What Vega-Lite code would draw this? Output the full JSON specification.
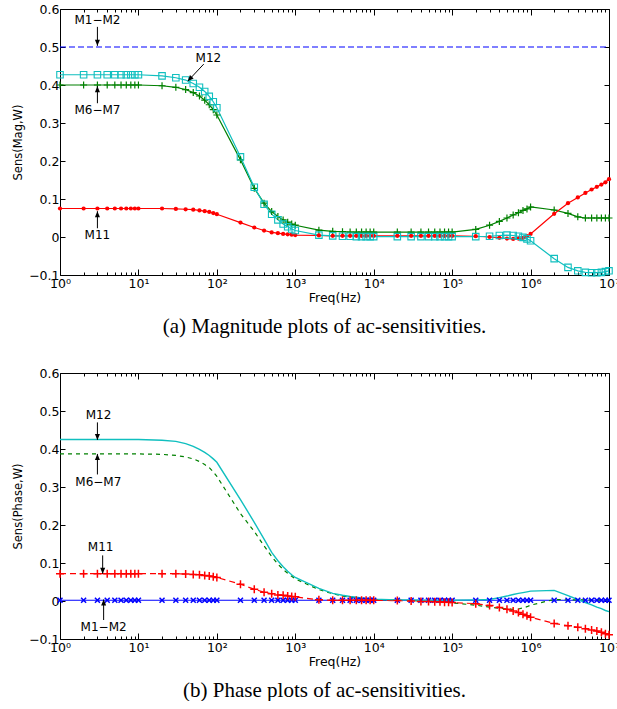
{
  "$schema": "https://vega.github.io/schema/vega-lite/v6.json",
  "background": "white",
  "padding": {"left": 12, "top": 3, "right": 0, "bottom": 0},
  "spacing": 30,
  "config": {
    "view": {"stroke": null},
    "font": "DejaVu Sans",
    "axis": {"grid": false, "domainColor": "black", "tickColor": "black", "labelColor": "black", "titleColor": "black", "labelFont": "DejaVu Sans", "titleFont": "DejaVu Sans", "titleFontWeight": "normal", "labelOverlap": false, "labelFlush": false}
  },
  "datasets": {
    "mag": [
      {"s":"M1−M2","f":1,"v":0.5},{"s":"M1−M2","f":10000000,"v":0.5},
      {"s":"M12","f":1,"v":0.427},{"s":"M12","f":2,"v":0.427},{"s":"M12","f":3,"v":0.427},{"s":"M12","f":4,"v":0.427},{"s":"M12","f":5,"v":0.427},{"s":"M12","f":6,"v":0.427},{"s":"M12","f":7,"v":0.427},{"s":"M12","f":8,"v":0.427},{"s":"M12","f":9,"v":0.427},{"s":"M12","f":10,"v":0.427},
      {"s":"M12","f":20,"v":0.424},{"s":"M12","f":30,"v":0.419},{"s":"M12","f":40,"v":0.413},{"s":"M12","f":50,"v":0.404},{"s":"M12","f":60,"v":0.394},{"s":"M12","f":70,"v":0.383},{"s":"M12","f":80,"v":0.370},{"s":"M12","f":90,"v":0.356},{"s":"M12","f":100,"v":0.340},
      {"s":"M12","f":200,"v":0.211},{"s":"M12","f":300,"v":0.131},{"s":"M12","f":400,"v":0.086},{"s":"M12","f":500,"v":0.060},{"s":"M12","f":600,"v":0.045},{"s":"M12","f":700,"v":0.034},{"s":"M12","f":800,"v":0.027},{"s":"M12","f":900,"v":0.021},{"s":"M12","f":1000,"v":0.017},
      {"s":"M12","f":2000,"v":0.005},{"s":"M12","f":3000,"v":0.003},{"s":"M12","f":4000,"v":0.002},{"s":"M12","f":5000,"v":0.002},{"s":"M12","f":6000,"v":0.001},{"s":"M12","f":7000,"v":0.001},{"s":"M12","f":8000,"v":0.001},{"s":"M12","f":9000,"v":0.001},{"s":"M12","f":10000,"v":0.001},
      {"s":"M12","f":20000,"v":0.001},{"s":"M12","f":30000,"v":0.001},{"s":"M12","f":40000,"v":0.001},{"s":"M12","f":50000,"v":0.001},{"s":"M12","f":60000,"v":0.001},{"s":"M12","f":70000,"v":0.001},{"s":"M12","f":80000,"v":0.001},{"s":"M12","f":90000,"v":0.001},{"s":"M12","f":100000,"v":0.001},
      {"s":"M12","f":200000,"v":0.001},{"s":"M12","f":300000,"v":0.002},{"s":"M12","f":400000,"v":0.004},{"s":"M12","f":500000,"v":0.005},{"s":"M12","f":600000,"v":0.004},{"s":"M12","f":700000,"v":0.002},{"s":"M12","f":800000,"v":-0.001},{"s":"M12","f":900000,"v":-0.005},{"s":"M12","f":1000000,"v":-0.010},
      {"s":"M12","f":2000000,"v":-0.057},{"s":"M12","f":3000000,"v":-0.080},{"s":"M12","f":4000000,"v":-0.089},{"s":"M12","f":5000000,"v":-0.093},{"s":"M12","f":6000000,"v":-0.094},{"s":"M12","f":7000000,"v":-0.094},{"s":"M12","f":8000000,"v":-0.093},{"s":"M12","f":9000000,"v":-0.091},{"s":"M12","f":10000000,"v":-0.089},
      {"s":"M6−M7","f":1,"v":0.4},{"s":"M6−M7","f":2,"v":0.4},{"s":"M6−M7","f":3,"v":0.4},{"s":"M6−M7","f":4,"v":0.4},{"s":"M6−M7","f":5,"v":0.4},{"s":"M6−M7","f":6,"v":0.4},{"s":"M6−M7","f":7,"v":0.4},{"s":"M6−M7","f":8,"v":0.4},{"s":"M6−M7","f":9,"v":0.4},{"s":"M6−M7","f":10,"v":0.4},
      {"s":"M6−M7","f":20,"v":0.398},{"s":"M6−M7","f":30,"v":0.394},{"s":"M6−M7","f":40,"v":0.388},{"s":"M6−M7","f":50,"v":0.380},{"s":"M6−M7","f":60,"v":0.371},{"s":"M6−M7","f":70,"v":0.360},{"s":"M6−M7","f":80,"v":0.348},{"s":"M6−M7","f":90,"v":0.335},{"s":"M6−M7","f":100,"v":0.321},
      {"s":"M6−M7","f":200,"v":0.203},{"s":"M6−M7","f":300,"v":0.128},{"s":"M6−M7","f":400,"v":0.089},{"s":"M6−M7","f":500,"v":0.067},{"s":"M6−M7","f":600,"v":0.054},{"s":"M6−M7","f":700,"v":0.045},{"s":"M6−M7","f":800,"v":0.039},{"s":"M6−M7","f":900,"v":0.034},{"s":"M6−M7","f":1000,"v":0.031},
      {"s":"M6−M7","f":2000,"v":0.018},{"s":"M6−M7","f":3000,"v":0.015},{"s":"M6−M7","f":4000,"v":0.014},{"s":"M6−M7","f":5000,"v":0.013},{"s":"M6−M7","f":6000,"v":0.013},{"s":"M6−M7","f":7000,"v":0.013},{"s":"M6−M7","f":8000,"v":0.013},{"s":"M6−M7","f":9000,"v":0.013},{"s":"M6−M7","f":10000,"v":0.013},
      {"s":"M6−M7","f":20000,"v":0.013},{"s":"M6−M7","f":30000,"v":0.013},{"s":"M6−M7","f":40000,"v":0.013},{"s":"M6−M7","f":50000,"v":0.013},{"s":"M6−M7","f":60000,"v":0.013},{"s":"M6−M7","f":70000,"v":0.013},{"s":"M6−M7","f":80000,"v":0.013},{"s":"M6−M7","f":90000,"v":0.013},{"s":"M6−M7","f":100000,"v":0.013},
      {"s":"M6−M7","f":200000,"v":0.020},{"s":"M6−M7","f":300000,"v":0.031},{"s":"M6−M7","f":400000,"v":0.041},{"s":"M6−M7","f":500000,"v":0.050},{"s":"M6−M7","f":600000,"v":0.058},{"s":"M6−M7","f":700000,"v":0.064},{"s":"M6−M7","f":800000,"v":0.070},{"s":"M6−M7","f":900000,"v":0.074},{"s":"M6−M7","f":1000000,"v":0.079},
      {"s":"M6−M7","f":2000000,"v":0.071},{"s":"M6−M7","f":3000000,"v":0.062},{"s":"M6−M7","f":4000000,"v":0.053},{"s":"M6−M7","f":5000000,"v":0.050},{"s":"M6−M7","f":6000000,"v":0.050},{"s":"M6−M7","f":7000000,"v":0.050},{"s":"M6−M7","f":8000000,"v":0.050},{"s":"M6−M7","f":9000000,"v":0.050},{"s":"M6−M7","f":10000000,"v":0.050},
      {"s":"M11","f":1,"v":0.075},{"s":"M11","f":2,"v":0.075},{"s":"M11","f":3,"v":0.075},{"s":"M11","f":4,"v":0.075},{"s":"M11","f":5,"v":0.075},{"s":"M11","f":6,"v":0.075},{"s":"M11","f":7,"v":0.075},{"s":"M11","f":8,"v":0.075},{"s":"M11","f":9,"v":0.075},{"s":"M11","f":10,"v":0.075},
      {"s":"M11","f":20,"v":0.075},{"s":"M11","f":30,"v":0.074},{"s":"M11","f":40,"v":0.073},{"s":"M11","f":50,"v":0.072},{"s":"M11","f":60,"v":0.070},{"s":"M11","f":70,"v":0.068},{"s":"M11","f":80,"v":0.066},{"s":"M11","f":90,"v":0.063},{"s":"M11","f":100,"v":0.060},
      {"s":"M11","f":200,"v":0.038},{"s":"M11","f":300,"v":0.025},{"s":"M11","f":400,"v":0.017},{"s":"M11","f":500,"v":0.012},{"s":"M11","f":600,"v":0.010},{"s":"M11","f":700,"v":0.008},{"s":"M11","f":800,"v":0.007},{"s":"M11","f":900,"v":0.006},{"s":"M11","f":1000,"v":0.005},
      {"s":"M11","f":2000,"v":0.004},{"s":"M11","f":3000,"v":0.003},{"s":"M11","f":4000,"v":0.003},{"s":"M11","f":5000,"v":0.003},{"s":"M11","f":6000,"v":0.003},{"s":"M11","f":7000,"v":0.003},{"s":"M11","f":8000,"v":0.003},{"s":"M11","f":9000,"v":0.003},{"s":"M11","f":10000,"v":0.003},
      {"s":"M11","f":20000,"v":0.003},{"s":"M11","f":30000,"v":0.003},{"s":"M11","f":40000,"v":0.003},{"s":"M11","f":50000,"v":0.003},{"s":"M11","f":60000,"v":0.003},{"s":"M11","f":70000,"v":0.003},{"s":"M11","f":80000,"v":0.003},{"s":"M11","f":90000,"v":0.003},{"s":"M11","f":100000,"v":0.003},
      {"s":"M11","f":200000,"v":0.002},{"s":"M11","f":300000,"v":0.000},{"s":"M11","f":400000,"v":-0.002},{"s":"M11","f":500000,"v":-0.004},{"s":"M11","f":600000,"v":-0.005},{"s":"M11","f":700000,"v":-0.004},{"s":"M11","f":800000,"v":-0.002},{"s":"M11","f":900000,"v":0.002},{"s":"M11","f":1000000,"v":0.008},
      {"s":"M11","f":2000000,"v":0.061},{"s":"M11","f":3000000,"v":0.089},{"s":"M11","f":4000000,"v":0.104},{"s":"M11","f":5000000,"v":0.116},{"s":"M11","f":6000000,"v":0.125},{"s":"M11","f":7000000,"v":0.132},{"s":"M11","f":8000000,"v":0.138},{"s":"M11","f":9000000,"v":0.144},{"s":"M11","f":10000000,"v":0.152}
    ],
    "phase": [
      {"s":"M1−M2","f":1,"v":0.002},{"s":"M1−M2","f":2,"v":0.002},{"s":"M1−M2","f":3,"v":0.002},{"s":"M1−M2","f":4,"v":0.002},{"s":"M1−M2","f":5,"v":0.002},{"s":"M1−M2","f":6,"v":0.002},{"s":"M1−M2","f":7,"v":0.002},{"s":"M1−M2","f":8,"v":0.002},{"s":"M1−M2","f":9,"v":0.002},{"s":"M1−M2","f":10,"v":0.002},
      {"s":"M1−M2","f":20,"v":0.002},{"s":"M1−M2","f":30,"v":0.002},{"s":"M1−M2","f":40,"v":0.002},{"s":"M1−M2","f":50,"v":0.002},{"s":"M1−M2","f":60,"v":0.002},{"s":"M1−M2","f":70,"v":0.002},{"s":"M1−M2","f":80,"v":0.002},{"s":"M1−M2","f":90,"v":0.002},{"s":"M1−M2","f":100,"v":0.002},
      {"s":"M1−M2","f":200,"v":0.002},{"s":"M1−M2","f":300,"v":0.002},{"s":"M1−M2","f":400,"v":0.002},{"s":"M1−M2","f":500,"v":0.002},{"s":"M1−M2","f":600,"v":0.002},{"s":"M1−M2","f":700,"v":0.002},{"s":"M1−M2","f":800,"v":0.002},{"s":"M1−M2","f":900,"v":0.002},{"s":"M1−M2","f":1000,"v":0.002},
      {"s":"M1−M2","f":2000,"v":0.002},{"s":"M1−M2","f":3000,"v":0.002},{"s":"M1−M2","f":4000,"v":0.002},{"s":"M1−M2","f":5000,"v":0.002},{"s":"M1−M2","f":6000,"v":0.002},{"s":"M1−M2","f":7000,"v":0.002},{"s":"M1−M2","f":8000,"v":0.002},{"s":"M1−M2","f":9000,"v":0.002},{"s":"M1−M2","f":10000,"v":0.002},
      {"s":"M1−M2","f":20000,"v":0.002},{"s":"M1−M2","f":30000,"v":0.002},{"s":"M1−M2","f":40000,"v":0.002},{"s":"M1−M2","f":50000,"v":0.002},{"s":"M1−M2","f":60000,"v":0.002},{"s":"M1−M2","f":70000,"v":0.002},{"s":"M1−M2","f":80000,"v":0.002},{"s":"M1−M2","f":90000,"v":0.002},{"s":"M1−M2","f":100000,"v":0.002},
      {"s":"M1−M2","f":200000,"v":0.002},{"s":"M1−M2","f":300000,"v":0.002},{"s":"M1−M2","f":400000,"v":0.002},{"s":"M1−M2","f":500000,"v":0.002},{"s":"M1−M2","f":600000,"v":0.002},{"s":"M1−M2","f":700000,"v":0.002},{"s":"M1−M2","f":800000,"v":0.002},{"s":"M1−M2","f":900000,"v":0.002},{"s":"M1−M2","f":1000000,"v":0.002},
      {"s":"M1−M2","f":2000000,"v":0.002},{"s":"M1−M2","f":3000000,"v":0.002},{"s":"M1−M2","f":4000000,"v":0.002},{"s":"M1−M2","f":5000000,"v":0.002},{"s":"M1−M2","f":6000000,"v":0.002},{"s":"M1−M2","f":7000000,"v":0.002},{"s":"M1−M2","f":8000000,"v":0.002},{"s":"M1−M2","f":9000000,"v":0.002},{"s":"M1−M2","f":10000000,"v":0.002},
      {"s":"M12","f":1,"v":0.425},{"s":"M12","f":2,"v":0.425},{"s":"M12","f":3,"v":0.425},{"s":"M12","f":4,"v":0.425},{"s":"M12","f":5,"v":0.425},{"s":"M12","f":6,"v":0.425},{"s":"M12","f":7,"v":0.425},{"s":"M12","f":8,"v":0.425},{"s":"M12","f":9,"v":0.425},{"s":"M12","f":10,"v":0.425},
      {"s":"M12","f":20,"v":0.423},{"s":"M12","f":30,"v":0.420},{"s":"M12","f":40,"v":0.414},{"s":"M12","f":50,"v":0.407},{"s":"M12","f":60,"v":0.399},{"s":"M12","f":70,"v":0.391},{"s":"M12","f":80,"v":0.383},{"s":"M12","f":90,"v":0.374},{"s":"M12","f":100,"v":0.365},
      {"s":"M12","f":200,"v":0.267},{"s":"M12","f":300,"v":0.207},{"s":"M12","f":400,"v":0.163},{"s":"M12","f":500,"v":0.128},{"s":"M12","f":600,"v":0.106},{"s":"M12","f":700,"v":0.090},{"s":"M12","f":800,"v":0.078},{"s":"M12","f":900,"v":0.069},{"s":"M12","f":1000,"v":0.062},
      {"s":"M12","f":2000,"v":0.033},{"s":"M12","f":3000,"v":0.020},{"s":"M12","f":4000,"v":0.015},{"s":"M12","f":5000,"v":0.012},{"s":"M12","f":6000,"v":0.010},{"s":"M12","f":7000,"v":0.008},{"s":"M12","f":8000,"v":0.007},{"s":"M12","f":9000,"v":0.006},{"s":"M12","f":10000,"v":0.005},
      {"s":"M12","f":20000,"v":0.003},{"s":"M12","f":30000,"v":0.003},{"s":"M12","f":40000,"v":0.002},{"s":"M12","f":50000,"v":0.002},{"s":"M12","f":60000,"v":0.002},{"s":"M12","f":70000,"v":0.002},{"s":"M12","f":80000,"v":0.002},{"s":"M12","f":90000,"v":0.002},{"s":"M12","f":100000,"v":0.002},
      {"s":"M12","f":200000,"v":0.003},{"s":"M12","f":300000,"v":0.004},{"s":"M12","f":400000,"v":0.009},{"s":"M12","f":500000,"v":0.013},{"s":"M12","f":600000,"v":0.017},{"s":"M12","f":700000,"v":0.020},{"s":"M12","f":800000,"v":0.022},{"s":"M12","f":900000,"v":0.024},{"s":"M12","f":1000000,"v":0.026},
      {"s":"M12","f":2000000,"v":0.028},{"s":"M12","f":3000000,"v":0.014},{"s":"M12","f":4000000,"v":0.004},{"s":"M12","f":5000000,"v":-0.004},{"s":"M12","f":6000000,"v":-0.010},{"s":"M12","f":7000000,"v":-0.016},{"s":"M12","f":8000000,"v":-0.020},{"s":"M12","f":9000000,"v":-0.025},{"s":"M12","f":10000000,"v":-0.028},
      {"s":"M6−M7","f":1,"v":0.387},{"s":"M6−M7","f":2,"v":0.387},{"s":"M6−M7","f":3,"v":0.387},{"s":"M6−M7","f":4,"v":0.387},{"s":"M6−M7","f":5,"v":0.387},{"s":"M6−M7","f":6,"v":0.387},{"s":"M6−M7","f":7,"v":0.387},{"s":"M6−M7","f":8,"v":0.387},{"s":"M6−M7","f":9,"v":0.387},{"s":"M6−M7","f":10,"v":0.387},
      {"s":"M6−M7","f":20,"v":0.386},{"s":"M6−M7","f":30,"v":0.383},{"s":"M6−M7","f":40,"v":0.379},{"s":"M6−M7","f":50,"v":0.374},{"s":"M6−M7","f":60,"v":0.367},{"s":"M6−M7","f":70,"v":0.359},{"s":"M6−M7","f":80,"v":0.351},{"s":"M6−M7","f":90,"v":0.340},{"s":"M6−M7","f":100,"v":0.328},
      {"s":"M6−M7","f":200,"v":0.230},{"s":"M6−M7","f":300,"v":0.183},{"s":"M6−M7","f":400,"v":0.145},{"s":"M6−M7","f":500,"v":0.117},{"s":"M6−M7","f":600,"v":0.097},{"s":"M6−M7","f":700,"v":0.083},{"s":"M6−M7","f":800,"v":0.073},{"s":"M6−M7","f":900,"v":0.065},{"s":"M6−M7","f":1000,"v":0.058},
      {"s":"M6−M7","f":2000,"v":0.030},{"s":"M6−M7","f":3000,"v":0.019},{"s":"M6−M7","f":4000,"v":0.013},{"s":"M6−M7","f":5000,"v":0.010},{"s":"M6−M7","f":6000,"v":0.008},{"s":"M6−M7","f":7000,"v":0.007},{"s":"M6−M7","f":8000,"v":0.006},{"s":"M6−M7","f":9000,"v":0.005},{"s":"M6−M7","f":10000,"v":0.004},
      {"s":"M6−M7","f":20000,"v":0.002},{"s":"M6−M7","f":30000,"v":0.001},{"s":"M6−M7","f":40000,"v":0.000},{"s":"M6−M7","f":50000,"v":-0.001},{"s":"M6−M7","f":60000,"v":-0.002},{"s":"M6−M7","f":70000,"v":-0.003},{"s":"M6−M7","f":80000,"v":-0.004},{"s":"M6−M7","f":90000,"v":-0.004},{"s":"M6−M7","f":100000,"v":-0.005},
      {"s":"M6−M7","f":200000,"v":-0.011},{"s":"M6−M7","f":300000,"v":-0.016},{"s":"M6−M7","f":400000,"v":-0.019},{"s":"M6−M7","f":500000,"v":-0.021},{"s":"M6−M7","f":600000,"v":-0.022},{"s":"M6−M7","f":700000,"v":-0.021},{"s":"M6−M7","f":800000,"v":-0.018},{"s":"M6−M7","f":900000,"v":-0.015},{"s":"M6−M7","f":1000000,"v":-0.011},
      {"s":"M6−M7","f":2000000,"v":0.004},{"s":"M6−M7","f":3000000,"v":0.003},{"s":"M6−M7","f":4000000,"v":0.003},{"s":"M6−M7","f":5000000,"v":0.003},{"s":"M6−M7","f":6000000,"v":0.003},{"s":"M6−M7","f":7000000,"v":0.003},{"s":"M6−M7","f":8000000,"v":0.003},{"s":"M6−M7","f":9000000,"v":0.003},{"s":"M6−M7","f":10000000,"v":0.003},
      {"s":"M11","f":1,"v":0.072},{"s":"M11","f":2,"v":0.072},{"s":"M11","f":3,"v":0.072},{"s":"M11","f":4,"v":0.072},{"s":"M11","f":5,"v":0.072},{"s":"M11","f":6,"v":0.072},{"s":"M11","f":7,"v":0.072},{"s":"M11","f":8,"v":0.072},{"s":"M11","f":9,"v":0.072},{"s":"M11","f":10,"v":0.072},
      {"s":"M11","f":20,"v":0.072},{"s":"M11","f":30,"v":0.072},{"s":"M11","f":40,"v":0.071},{"s":"M11","f":50,"v":0.070},{"s":"M11","f":60,"v":0.069},{"s":"M11","f":70,"v":0.067},{"s":"M11","f":80,"v":0.066},{"s":"M11","f":90,"v":0.064},{"s":"M11","f":100,"v":0.062},
      {"s":"M11","f":200,"v":0.044},{"s":"M11","f":300,"v":0.031},{"s":"M11","f":400,"v":0.023},{"s":"M11","f":500,"v":0.019},{"s":"M11","f":600,"v":0.016},{"s":"M11","f":700,"v":0.015},{"s":"M11","f":800,"v":0.013},{"s":"M11","f":900,"v":0.012},{"s":"M11","f":1000,"v":0.011},
      {"s":"M11","f":2000,"v":0.003},{"s":"M11","f":3000,"v":0.002},{"s":"M11","f":4000,"v":0.002},{"s":"M11","f":5000,"v":0.002},{"s":"M11","f":6000,"v":0.002},{"s":"M11","f":7000,"v":0.002},{"s":"M11","f":8000,"v":0.002},{"s":"M11","f":9000,"v":0.002},{"s":"M11","f":10000,"v":0.002},
      {"s":"M11","f":20000,"v":0.001},{"s":"M11","f":30000,"v":0.000},{"s":"M11","f":40000,"v":-0.001},{"s":"M11","f":50000,"v":-0.001},{"s":"M11","f":60000,"v":-0.002},{"s":"M11","f":70000,"v":-0.002},{"s":"M11","f":80000,"v":-0.003},{"s":"M11","f":90000,"v":-0.003},{"s":"M11","f":100000,"v":-0.004},
      {"s":"M11","f":200000,"v":-0.007},{"s":"M11","f":300000,"v":-0.012},{"s":"M11","f":400000,"v":-0.017},{"s":"M11","f":500000,"v":-0.022},{"s":"M11","f":600000,"v":-0.026},{"s":"M11","f":700000,"v":-0.030},{"s":"M11","f":800000,"v":-0.035},{"s":"M11","f":900000,"v":-0.039},{"s":"M11","f":1000000,"v":-0.043},
      {"s":"M11","f":2000000,"v":-0.059},{"s":"M11","f":3000000,"v":-0.065},{"s":"M11","f":4000000,"v":-0.069},{"s":"M11","f":5000000,"v":-0.073},{"s":"M11","f":6000000,"v":-0.076},{"s":"M11","f":7000000,"v":-0.079},{"s":"M11","f":8000000,"v":-0.082},{"s":"M11","f":9000000,"v":-0.086},{"s":"M11","f":10000000,"v":-0.089}
    ],
    "labMag": [
      {"t":"M1−M2","f":3,"v":0.571},
      {"t":"M12","f":78,"v":0.471},
      {"t":"M6−M7","f":3,"v":0.334},
      {"t":"M11","f":3,"v":0.005}
    ],
    "arrMag": [
      {"d":"down","f1":3,"v1":0.553,"f2":3,"v2":0.503},
      {"d":"diag","f1":68,"v1":0.455,"f2":42.5,"v2":0.41},
      {"d":"up","f1":3,"v1":0.352,"f2":3,"v2":0.397},
      {"d":"up","f1":3,"v1":0.023,"f2":3,"v2":0.068}
    ],
    "labPhase": [
      {"t":"M12","f":3.1,"v":0.489},
      {"t":"M6−M7","f":3.08,"v":0.314},
      {"t":"M11","f":3.3,"v":0.142},
      {"t":"M1−M2","f":3.6,"v":-0.068}
    ],
    "arrPhase": [
      {"d":"down","f1":3,"v1":0.47,"f2":3,"v2":0.424},
      {"d":"up","f1":3,"v1":0.333,"f2":3,"v2":0.387},
      {"d":"down","f1":3.5,"v1":0.12,"f2":3.5,"v2":0.072},
      {"d":"up","f1":3.6,"v1":-0.05,"f2":3.6,"v2":0.004}
    ]
  },
  "vconcat": [
    {
      "width": 549, "height": 266,
      "title": {"text": "(a) Magnitude plots of ac-sensitivities.", "orient": "bottom", "anchor": "middle", "frame": "group", "font": "Liberation Serif", "fontSize": 21, "fontWeight": "normal", "color": "black", "offset": 12, "dx": -10},
      "resolve": {"axis": {"x": "independent", "y": "independent"}},
      "layer": [
        {
          "data": {"name": "mag"},
          "transform": [{"filter": "datum.s == 'M1−M2'"}],
          "mark": {"type": "line", "color": "#0000ff", "strokeDash": [6, 3], "strokeWidth": 1.2},
          "encoding": {
            "x": {"field": "f", "type": "quantitative", "scale": {"type": "log", "domain": [1, 10000000], "nice": false},
              "axis": {"orient": "bottom", "values": [1,2,3,4,5,6,7,8,9,10,20,30,40,50,60,70,80,90,100,200,300,400,500,600,700,800,900,1000,2000,3000,4000,5000,6000,7000,8000,9000,10000,20000,30000,40000,50000,60000,70000,80000,90000,100000,200000,300000,400000,500000,600000,700000,800000,900000,1000000,2000000,3000000,4000000,5000000,6000000,7000000,8000000,9000000,10000000],
                "labelExpr": "abs(log(datum.value)/LN10 - round(log(datum.value)/LN10)) < 0.001 ? '10' + substring('⁰¹²³⁴⁵⁶⁷', round(log(datum.value)/LN10), round(log(datum.value)/LN10) + 1) : ''",
                "tickSize": {"condition": {"test": "abs(log(datum.value)/LN10 - round(log(datum.value)/LN10)) < 0.001", "value": -6}, "value": -3},
                "labelFontSize": 12.5, "labelPadding": 8, "title": "Freq(Hz)", "titleFontSize": 12.5, "titlePadding": -1}},
            "y": {"field": "v", "type": "quantitative", "scale": {"domain": [-0.1, 0.6], "nice": false, "zero": false},
              "axis": {"orient": "left", "values": [-0.1, 0, 0.1, 0.2, 0.3, 0.4, 0.5, 0.6], "labelExpr": "datum.value == 0 ? '0' : format(datum.value, '.1f')", "tickSize": -5, "labelFontSize": 12.5, "labelPadding": 6, "title": "Sens(Mag,W)", "titleFontSize": 11.5, "titlePadding": 5}}
          }
        },
        {
          "data": {"name": "mag"},
          "transform": [{"filter": "datum.s == 'M6−M7'"}],
          "mark": {"type": "line", "color": "#008000", "strokeWidth": 1.2},
          "encoding": {
            "x": {"field": "f", "type": "quantitative", "scale": {"type": "log", "domain": [1, 10000000], "nice": false},
              "axis": {"orient": "top", "values": [1,2,3,4,5,6,7,8,9,10,20,30,40,50,60,70,80,90,100,200,300,400,500,600,700,800,900,1000,2000,3000,4000,5000,6000,7000,8000,9000,10000,20000,30000,40000,50000,60000,70000,80000,90000,100000,200000,300000,400000,500000,600000,700000,800000,900000,1000000,2000000,3000000,4000000,5000000,6000000,7000000,8000000,9000000,10000000],
                "labels": false, "title": null,
                "tickSize": {"condition": {"test": "abs(log(datum.value)/LN10 - round(log(datum.value)/LN10)) < 0.001", "value": -6}, "value": -3}}},
            "y": {"field": "v", "type": "quantitative", "scale": {"domain": [-0.1, 0.6], "nice": false, "zero": false},
              "axis": {"orient": "right", "values": [-0.1, 0, 0.1, 0.2, 0.3, 0.4, 0.5, 0.6], "labels": false, "title": null, "tickSize": -5}}
          }
        },
        {
          "data": {"name": "mag"},
          "transform": [{"filter": "datum.s == 'M11'"}],
          "mark": {"type": "line", "color": "#ff0000", "strokeWidth": 1.2},
          "encoding": {"x": {"field": "f", "type": "quantitative", "axis": null}, "y": {"field": "v", "type": "quantitative", "axis": null}}
        },
        {
          "data": {"name": "mag"},
          "transform": [{"filter": "datum.s == 'M12'"}],
          "mark": {"type": "line", "color": "#10bfbf", "strokeWidth": 1.2},
          "encoding": {"x": {"field": "f", "type": "quantitative", "axis": null}, "y": {"field": "v", "type": "quantitative", "axis": null}}
        },
        {
          "data": {"name": "mag"},
          "transform": [{"filter": "datum.s == 'M6−M7'"}],
          "mark": {"type": "point", "shape": "M-1,0H1M0,-1V1", "filled": false, "color": "#008000", "size": 49, "strokeWidth": 1.2, "opacity": 1},
          "encoding": {"x": {"field": "f", "type": "quantitative", "axis": null}, "y": {"field": "v", "type": "quantitative", "axis": null}}
        },
        {
          "data": {"name": "mag"},
          "transform": [{"filter": "datum.s == 'M11'"}],
          "mark": {"type": "point", "shape": "circle", "filled": true, "color": "#ff0000", "size": 18, "opacity": 1},
          "encoding": {"x": {"field": "f", "type": "quantitative", "axis": null}, "y": {"field": "v", "type": "quantitative", "axis": null}}
        },
        {
          "data": {"name": "mag"},
          "transform": [{"filter": "datum.s == 'M12'"}],
          "mark": {"type": "point", "shape": "square", "filled": false, "color": "#10bfbf", "size": 42, "strokeWidth": 1.1, "opacity": 1},
          "encoding": {"x": {"field": "f", "type": "quantitative", "axis": null}, "y": {"field": "v", "type": "quantitative", "axis": null}}
        },
        {
          "data": {"name": "arrMag"},
          "mark": {"type": "rule", "color": "black", "strokeWidth": 1},
          "encoding": {"x": {"field": "f1", "type": "quantitative", "axis": null}, "y": {"field": "v1", "type": "quantitative", "axis": null}, "x2": {"field": "f2"}, "y2": {"field": "v2"}}
        },
        {
          "data": {"name": "arrMag"},
          "transform": [{"filter": "datum.d == 'down'"}],
          "mark": {"type": "point", "shape": "M0,0L-0.42,-1L0.42,-1Z", "filled": true, "color": "black", "size": 144, "opacity": 1},
          "encoding": {"x": {"field": "f2", "type": "quantitative", "axis": null}, "y": {"field": "v2", "type": "quantitative", "axis": null}}
        },
        {
          "data": {"name": "arrMag"},
          "transform": [{"filter": "datum.d == 'up'"}],
          "mark": {"type": "point", "shape": "M0,0L-0.42,1L0.42,1Z", "filled": true, "color": "black", "size": 144, "opacity": 1},
          "encoding": {"x": {"field": "f2", "type": "quantitative", "axis": null}, "y": {"field": "v2", "type": "quantitative", "axis": null}}
        },
        {
          "data": {"name": "arrMag"},
          "transform": [{"filter": "datum.d == 'diag'"}],
          "mark": {"type": "point", "shape": "M0,0L-0.42,-1L0.42,-1Z", "filled": true, "color": "black", "size": 144, "angle": 43, "opacity": 1},
          "encoding": {"x": {"field": "f2", "type": "quantitative", "axis": null}, "y": {"field": "v2", "type": "quantitative", "axis": null}}
        },
        {
          "data": {"name": "labMag"},
          "mark": {"type": "text", "font": "DejaVu Sans", "fontSize": 12, "color": "black", "align": "center", "baseline": "middle"},
          "encoding": {"x": {"field": "f", "type": "quantitative", "axis": null}, "y": {"field": "v", "type": "quantitative", "axis": null}, "text": {"field": "t"}}
        }
      ]
    },
    {
      "width": 549, "height": 266,
      "title": {"text": "(b) Phase plots of ac-sensitivities.", "orient": "bottom", "anchor": "middle", "frame": "group", "font": "Liberation Serif", "fontSize": 21, "fontWeight": "normal", "color": "black", "offset": 12, "dx": -10},
      "resolve": {"axis": {"x": "independent", "y": "independent"}},
      "layer": [
        {
          "data": {"name": "phase"},
          "transform": [{"filter": "datum.s == 'M1−M2'"}],
          "mark": {"type": "line", "color": "#0000ff", "strokeWidth": 1.2},
          "encoding": {
            "x": {"field": "f", "type": "quantitative", "scale": {"type": "log", "domain": [1, 10000000], "nice": false},
              "axis": {"orient": "bottom", "values": [1,2,3,4,5,6,7,8,9,10,20,30,40,50,60,70,80,90,100,200,300,400,500,600,700,800,900,1000,2000,3000,4000,5000,6000,7000,8000,9000,10000,20000,30000,40000,50000,60000,70000,80000,90000,100000,200000,300000,400000,500000,600000,700000,800000,900000,1000000,2000000,3000000,4000000,5000000,6000000,7000000,8000000,9000000,10000000],
                "labelExpr": "abs(log(datum.value)/LN10 - round(log(datum.value)/LN10)) < 0.001 ? '10' + substring('⁰¹²³⁴⁵⁶⁷', round(log(datum.value)/LN10), round(log(datum.value)/LN10) + 1) : ''",
                "tickSize": {"condition": {"test": "abs(log(datum.value)/LN10 - round(log(datum.value)/LN10)) < 0.001", "value": -6}, "value": -3},
                "labelFontSize": 12.5, "labelPadding": 8, "title": "Freq(Hz)", "titleFontSize": 12.5, "titlePadding": -1}},
            "y": {"field": "v", "type": "quantitative", "scale": {"domain": [-0.1, 0.6], "nice": false, "zero": false},
              "axis": {"orient": "left", "values": [-0.1, 0, 0.1, 0.2, 0.3, 0.4, 0.5, 0.6], "labelExpr": "datum.value == 0 ? '0' : format(datum.value, '.1f')", "tickSize": -5, "labelFontSize": 12.5, "labelPadding": 6, "title": "Sens(Phase,W)", "titleFontSize": 11.5, "titlePadding": 5}}
          }
        },
        {
          "data": {"name": "phase"},
          "transform": [{"filter": "datum.s == 'M6−M7'"}],
          "mark": {"type": "line", "color": "#008000", "strokeWidth": 1.2, "strokeDash": [4, 4]},
          "encoding": {
            "x": {"field": "f", "type": "quantitative", "scale": {"type": "log", "domain": [1, 10000000], "nice": false},
              "axis": {"orient": "top", "values": [1,2,3,4,5,6,7,8,9,10,20,30,40,50,60,70,80,90,100,200,300,400,500,600,700,800,900,1000,2000,3000,4000,5000,6000,7000,8000,9000,10000,20000,30000,40000,50000,60000,70000,80000,90000,100000,200000,300000,400000,500000,600000,700000,800000,900000,1000000,2000000,3000000,4000000,5000000,6000000,7000000,8000000,9000000,10000000],
                "labels": false, "title": null,
                "tickSize": {"condition": {"test": "abs(log(datum.value)/LN10 - round(log(datum.value)/LN10)) < 0.001", "value": -6}, "value": -3}}},
            "y": {"field": "v", "type": "quantitative", "scale": {"domain": [-0.1, 0.6], "nice": false, "zero": false},
              "axis": {"orient": "right", "values": [-0.1, 0, 0.1, 0.2, 0.3, 0.4, 0.5, 0.6], "labels": false, "title": null, "tickSize": -5}}
          }
        },
        {
          "data": {"name": "phase"},
          "transform": [{"filter": "datum.s == 'M11'"}],
          "mark": {"type": "line", "color": "#ff0000", "strokeWidth": 1.2, "strokeDash": [6, 4]},
          "encoding": {"x": {"field": "f", "type": "quantitative", "axis": null}, "y": {"field": "v", "type": "quantitative", "axis": null}}
        },
        {
          "data": {"name": "phase"},
          "transform": [{"filter": "datum.s == 'M12'"}],
          "mark": {"type": "line", "color": "#10bfbf", "strokeWidth": 1.4},
          "encoding": {"x": {"field": "f", "type": "quantitative", "axis": null}, "y": {"field": "v", "type": "quantitative", "axis": null}}
        },
        {
          "data": {"name": "phase"},
          "transform": [{"filter": "datum.s == 'M1−M2'"}],
          "mark": {"type": "point", "shape": "M-1,-1L1,1M-1,1L1,-1", "filled": false, "color": "#0000ff", "size": 25, "strokeWidth": 1.5, "opacity": 1},
          "encoding": {"x": {"field": "f", "type": "quantitative", "axis": null}, "y": {"field": "v", "type": "quantitative", "axis": null}}
        },
        {
          "data": {"name": "phase"},
          "transform": [{"filter": "datum.s == 'M11'"}],
          "mark": {"type": "point", "shape": "M-1,0H1M0,-1V1", "filled": false, "color": "#ff0000", "size": 64, "strokeWidth": 1.5, "opacity": 1},
          "encoding": {"x": {"field": "f", "type": "quantitative", "axis": null}, "y": {"field": "v", "type": "quantitative", "axis": null}}
        },
        {
          "data": {"name": "arrPhase"},
          "mark": {"type": "rule", "color": "black", "strokeWidth": 1},
          "encoding": {"x": {"field": "f1", "type": "quantitative", "axis": null}, "y": {"field": "v1", "type": "quantitative", "axis": null}, "x2": {"field": "f2"}, "y2": {"field": "v2"}}
        },
        {
          "data": {"name": "arrPhase"},
          "transform": [{"filter": "datum.d == 'down'"}],
          "mark": {"type": "point", "shape": "M0,0L-0.42,-1L0.42,-1Z", "filled": true, "color": "black", "size": 144, "opacity": 1},
          "encoding": {"x": {"field": "f2", "type": "quantitative", "axis": null}, "y": {"field": "v2", "type": "quantitative", "axis": null}}
        },
        {
          "data": {"name": "arrPhase"},
          "transform": [{"filter": "datum.d == 'up'"}],
          "mark": {"type": "point", "shape": "M0,0L-0.42,1L0.42,1Z", "filled": true, "color": "black", "size": 144, "opacity": 1},
          "encoding": {"x": {"field": "f2", "type": "quantitative", "axis": null}, "y": {"field": "v2", "type": "quantitative", "axis": null}}
        },
        {
          "data": {"name": "labPhase"},
          "mark": {"type": "text", "font": "DejaVu Sans", "fontSize": 12, "color": "black", "align": "center", "baseline": "middle"},
          "encoding": {"x": {"field": "f", "type": "quantitative", "axis": null}, "y": {"field": "v", "type": "quantitative", "axis": null}, "text": {"field": "t"}}
        }
      ]
    }
  ]
}
